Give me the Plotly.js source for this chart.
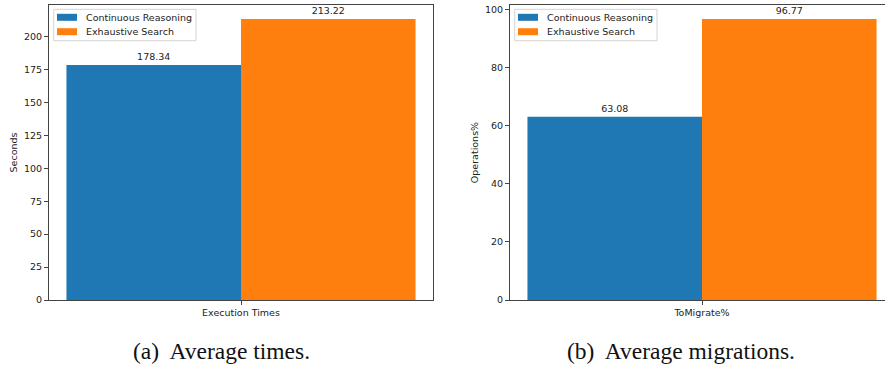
<!DOCTYPE html>
<html>
<head>
<meta charset="utf-8">
<script src="https://cdn.plot.ly/plotly-3.0.1.min.js"></script>
<style>
html,body{margin:0;padding:0;overflow:hidden;background:#fff;}
#chart{width:900px;height:367px;}
</style>
</head>
<body>
<div id="chart"></div>
<script>
// Data
const seriesNames = ["Continuous Reasoning", "Exhaustive Search"];
const seriesColors = ["#1f77b4", "#ff7f0e"];
const catsA = ["Execution Times"];
const catsB = ["ToMigrate%"];
const timesContinuous = [178.34];
const timesExhaustive = [213.22];
const migrContinuous = [63.08];
const migrExhaustive = [96.77];
const yTitleA = "Seconds";
const yTitleB = "Operations%";
const captionA = "(a)  Average times.";
const captionB = "(b)  Average migrations.";

const W = 900, H = 367;
const px = v => v / W;
const py = v => (H - v) / H;
const tickFont = {family: "DejaVu Sans", size: 9.5, color: "#222"};

function bar(x, y, i, xa, ya) {
  return {
    type: "bar", x: x, y: y, name: seriesNames[i],
    marker: {color: seriesColors[i], line: {width: 0}},
    xaxis: xa, yaxis: ya, showlegend: false,
    text: y.map(v => v.toFixed(2)), textposition: "outside",
    textfont: {family: "DejaVu Sans", size: 9.5, color: "#222"},
    cliponaxis: false, hoverinfo: "skip"
  };
}

const traces = [
  bar(catsA, timesContinuous, 0, "x", "y"),
  bar(catsA, timesExhaustive, 1, "x", "y"),
  bar(catsB, migrContinuous, 0, "x2", "y2"),
  bar(catsB, migrExhaustive, 1, "x2", "y2")
];

const axCommon = {
  showline: true, mirror: true, linecolor: "#444", linewidth: 1,
  showgrid: false, zeroline: false, ticks: "outside", ticklen: 4,
  tickcolor: "#444", tickfont: tickFont, automargin: false, fixedrange: true
};

const maxA = Math.max(...timesContinuous, ...timesExhaustive);
const maxB = Math.max(...migrContinuous, ...migrExhaustive);

// Matplotlib-style legend boxes (drawn in paper coordinates)
const shapes = [];
const annotations = [];
function addLegend(left, right, top, bottom, patchL, patchR, textL, rows) {
  shapes.push({type: "rect", xref: "paper", yref: "paper",
    x0: px(left), x1: px(right), y0: py(bottom), y1: py(top),
    line: {color: "#d4d4d4", width: 1}, fillcolor: "rgba(255,255,255,0.8)", layer: "above"});
  seriesNames.forEach((name, i) => {
    const cy = rows[i];
    shapes.push({type: "rect", xref: "paper", yref: "paper",
      x0: px(patchL), x1: px(patchR), y0: py(cy + 3.5), y1: py(cy - 3.5),
      line: {width: 0}, fillcolor: seriesColors[i], layer: "above"});
    annotations.push({text: name, xref: "paper", yref: "paper", x: px(textL), y: py(cy),
      xanchor: "left", yanchor: "middle", showarrow: false,
      font: {family: "DejaVu Sans", size: 9.5, color: "#222"}});
  });
}
addLegend(53.7, 196, 9.3, 40.7, 57, 77, 84, [17.3, 31.7]);
addLegend(514.7, 657, 9.3, 40.7, 518, 538, 545, [17.3, 31.7]);

annotations.push(
  {text: captionA, xref: "paper", yref: "paper", x: px(221), y: py(351), xanchor: "center", yanchor: "middle",
   showarrow: false, font: {family: "Liberation Serif", size: 23.5, color: "#111"}},
  {text: captionB, xref: "paper", yref: "paper", x: px(681), y: py(351), xanchor: "center", yanchor: "middle",
   showarrow: false, font: {family: "Liberation Serif", size: 23.5, color: "#111"}}
);

const layout = {
  width: W, height: H,
  margin: {l: 0, r: 0, t: 0, b: 0},
  paper_bgcolor: "#fff", plot_bgcolor: "#fff",
  barmode: "group", bargap: 0.3, bargroupgap: 0,
  showlegend: false,
  xaxis: Object.assign({}, axCommon, {domain: [px(49), px(433)], range: [-0.385, 0.385], anchor: "y"}),
  yaxis: Object.assign({}, axCommon, {domain: [py(300), py(5)], range: [0, maxA * 1.05], dtick: 25, anchor: "x",
    title: {text: yTitleA, font: tickFont, standoff: 4}}),
  xaxis2: Object.assign({}, axCommon, {domain: [px(510), px(894)], range: [-0.385, 0.385], anchor: "y2"}),
  yaxis2: Object.assign({}, axCommon, {domain: [py(300), py(5)], range: [0, maxB * 1.05], dtick: 20, anchor: "x2",
    title: {text: yTitleB, font: tickFont, standoff: 4}}),
  shapes: shapes,
  annotations: annotations
};

Plotly.newPlot("chart", traces, layout, {staticPlot: true, displayModeBar: false});
</script>
</body>
</html>
